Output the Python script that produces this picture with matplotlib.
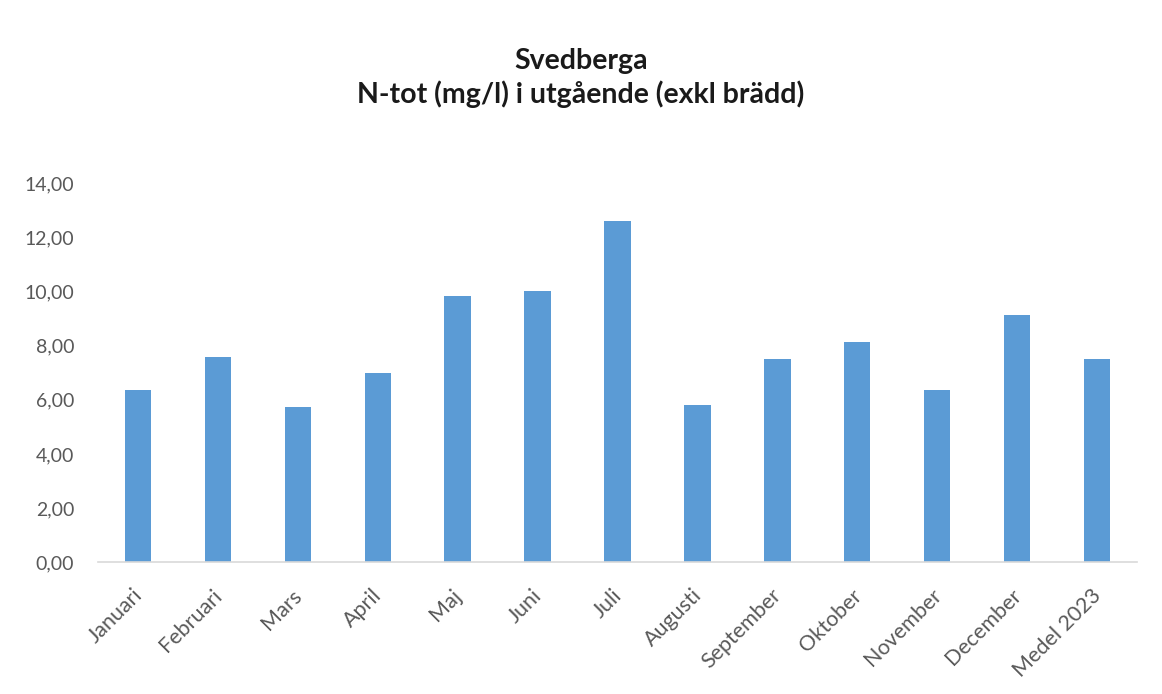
import matplotlib.pyplot as plt
from matplotlib.ticker import FuncFormatter
from matplotlib.transforms import ScaledTranslation

# N-tot i utgående vatten per månad, Svedberga
months = ["Januari", "Februari", "Mars", "April", "Maj", "Juni", "Juli",
          "Augusti", "September", "Oktober", "November", "December", "Medel 2023"]
n_tot = [6.36, 7.60, 5.74, 6.98, 9.84, 10.01, 12.60,
         5.82, 7.51, 8.14, 6.36, 9.12, 7.51]

plt.rcParams['font.family'] = ['Lato', 'DejaVu Sans']

fig = plt.figure(figsize=(11.62, 6.94), dpi=100)
ax = fig.add_axes([0.0843, 0.1898, 0.8942, 0.5461])

x = list(range(len(months)))
ax.bar(x, n_tot, width=0.33, color="#5B9BD5", zorder=2)

ax.set_xlim(-0.5, len(months) - 0.5)
ax.set_ylim(0, 14)
ax.set_yticks(range(0, 15, 2))
ax.yaxis.set_major_formatter(FuncFormatter(lambda v, p: f"{v:.2f}".replace(".", ",")))

# slanted month names, placed by hand just below each bar
ax.set_xticks(x)
ax.set_xticklabels([])
lbl_trans = ax.get_xaxis_transform() + ScaledTranslation(-6 / 100, -23 / 100, fig.dpi_scale_trans)
for i, name in zip(x, months):
    ax.text(i, 0, name, transform=lbl_trans, rotation=45, rotation_mode="anchor",
            ha="right", va="top", fontsize=15.5, color="#595959")

for side in ["top", "right", "left"]:
    ax.spines[side].set_visible(False)
ax.spines["bottom"].set_color("#D9D9D9")
ax.spines["bottom"].set_linewidth(1.2)

ax.tick_params(axis="both", length=0, colors="#595959")
ax.tick_params(axis="y", pad=17, labelsize=14)

fig.text(0.5, 0.900, "Svedberga", ha="center", va="baseline",
         fontsize=20.5, fontweight="bold", color="#1a1a1a")
fig.text(0.5, 0.8516, "N-tot (mg/l) i utgående (exkl brädd)", ha="center", va="baseline",
         fontsize=20.5, fontweight="bold", color="#1a1a1a")

fig.savefig("out.png", dpi=100, facecolor="white")
